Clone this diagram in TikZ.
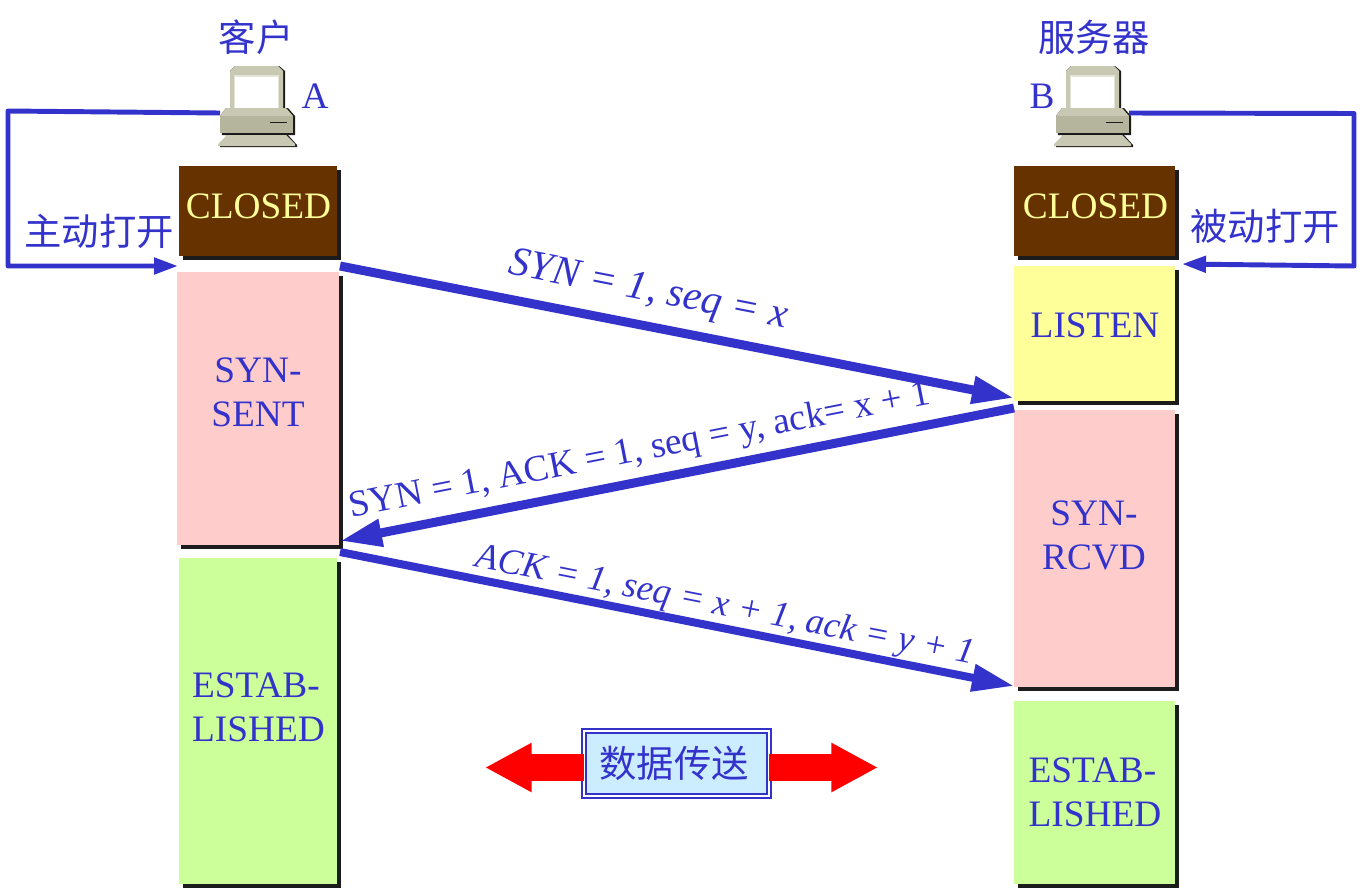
\documentclass[tikz,border=0pt]{standalone}
\usepackage{fontspec}
\setmainfont{Liberation Serif}
\newfontfamily\cjk{Noto Sans CJK SC}
\usetikzlibrary{arrows.meta,shadows}

\definecolor{msgblue}{HTML}{3333CC}
\definecolor{closedbrown}{HTML}{663300}
\definecolor{listenyellow}{HTML}{FFFF99}
\definecolor{synpink}{HTML}{FFCCCC}
\definecolor{estabgreen}{HTML}{CCFF99}
\definecolor{databg}{HTML}{CCECFF}
\definecolor{shadowblack}{HTML}{1C1C1C}
\definecolor{pclight}{HTML}{C9C9B3}
\definecolor{pcdark}{HTML}{B5B59D}
\definecolor{pcframe}{HTML}{E4E4D8}

\tikzset{
  statebox/.style={inner sep=0pt, outer sep=0pt,
    drop shadow={shadow xshift=3pt, shadow yshift=-3pt, fill=shadowblack, opacity=1}},
  statetext/.style={text=msgblue, align=center, inner sep=0pt,
    font=\fontsize{28}{33}\selectfont},
  msglabel/.style={text=msgblue, inner sep=0pt, font=\fontsize{28}{33}\selectfont},
  cjklabel/.style={text=msgblue, inner sep=0pt, font=\fontsize{28}{33}\selectfont\cjk},
  msgarrow/.style={draw=msgblue, line width=6.75pt,
    -{Triangle[length=31.5pt, width=19.5pt]}},
  openarrow/.style={draw=msgblue, line width=3.7pt, line join=round,
    -{Triangle[length=18pt, width=12pt]}},
  dataarrow/.style={draw=red, line width=20pt,
    -{Triangle[length=35pt, width=34.5pt]}},
  computer/.pic={
    % monitor
    \fill[shadowblack] (12,5) -- (17,0) -- (61,0) -- (67,5) -- (67,44) -- (12,44) -- cycle;
    \fill[pclight] (12,5) -- (17,0) -- (60,0) -- (65,5) -- (65,44) -- (12,44) -- cycle;
    \fill[pcframe] (16,9) rectangle (61,42);
    \fill[white] (17,11) rectangle (60,42);
    % base
    \fill[shadowblack] (2,50) -- (8,42) -- (70,42) -- (77,50) -- (77,69) -- (4,69) -- cycle;
    \fill[pclight] (2,50) -- (8,42) -- (68,42) -- (75,50) -- cycle;
    \fill[pcdark] (2,50) rectangle (75,67);
    \draw[shadowblack, line width=.6pt] (52,56) -- (69,56);
    % foot
    \fill[shadowblack] (2,80) -- (9,69) -- (70,69) -- (79,79) -- (79,81) -- (2,81) -- cycle;
    \fill[pclight] (0,78) -- (9,69) -- (68,69) -- (77,78) -- (77,80) -- (0,80) -- cycle;
    \coordinate (-left) at (2,47);
    \coordinate (-right) at (75,47);
  },
}

\begin{document}
\begin{tikzpicture}[x=.75pt, y=-.75pt]
\useasboundingbox (0,0) rectangle (1363,889);

\node[cjklabel] (client) at (256,37) {客户};
\node[cjklabel] (server) at (1094,37) {服务器};
\pic (pcA) at (218,66) {computer};
\pic (pcB) at (1054,66) {computer};
\node[msglabel] (nameA) at (315,96) {A};
\node[msglabel] (nameB) at (1042,96) {B};

\node[statebox, fill=closedbrown, minimum width=118.5pt, minimum height=67.5pt] (closedA) at (258,211) {};
\node[statebox, fill=synpink, minimum width=121.5pt, minimum height=204.75pt] (sentA) at (258,408.5) {};
\node[statebox, fill=estabgreen, minimum width=118.5pt, minimum height=244.5pt] (estabA) at (258,721) {};
\node[statebox, fill=closedbrown, minimum width=120.75pt, minimum height=67.5pt] (closedB) at (1094.5,211) {};
\node[statebox, fill=listenyellow, minimum width=120.75pt, minimum height=101.25pt] (listenB) at (1094.5,333.5) {};
\node[statebox, fill=synpink, minimum width=120.75pt, minimum height=207.75pt] (rcvdB) at (1094.5,548.5) {};
\node[statebox, fill=estabgreen, minimum width=120.75pt, minimum height=137.25pt] (estabB) at (1094.5,792.5) {};

\node[statetext, text=listenyellow] (closedAtext) at (258.5,206) {CLOSED};
\node[statetext] (sentAtext) at (258,392) {SYN-\\SENT};
\node[statetext, align=left] (estabAtext) at (258.5,707) {ESTAB-\\LISHED};
\node[statetext, text=listenyellow] (closedBtext) at (1095.5,206) {CLOSED};
\node[statetext] (listenBtext) at (1095,325) {LISTEN};
\node[statetext] (rcvdBtext) at (1094,535) {SYN-\\RCVD};
\node[statetext, align=left] (estabBtext) at (1095,792) {ESTAB-\\LISHED};

\node[cjklabel] (activeopen) at (99,231) {主动打开};
\node[cjklabel] (passiveopen) at (1265,226) {被动打开};

\draw[openarrow] (pcA-left) -- (8,111) -- (8,266) -- ([shift={(-1,10)}]closedA.south west);
\draw[openarrow] (pcB-right) -- (1354,113.5) -- (1354,266) -- ([shift={(7,8)}]closedB.south east);

\draw[msgarrow] ([shift={(3,10)}]closedA.south east) -- ([yshift=2.25pt]listenB.south west);
\draw[msgarrow] ([yshift=1.5pt]rcvdB.north west) -- ([shift={(1,-4)}]sentA.south east);
\draw[msgarrow, line width=6pt] ([shift={(1,7)}]sentA.south east) -- ([shift={(0,-1)}]rcvdB.south west);

\node[msglabel, rotate=-11.1, font=\fontsize{31}{33}\selectfont] (synlabel) at (648,292) {\itshape SYN = 1, seq = x};
\node[msglabel, rotate=11.1] (synacklabel) at (640,452) {SYN = 1, ACK = 1, seq = y, ack= x + 1};
\node[msglabel, rotate=-11.1, font=\fontsize{27.3}{33}\selectfont] (acklabel) at (725,607) {\itshape ACK = 1, seq = x + 1, ack = y + 1};

\node[draw=msgblue, fill=databg, double=white, double distance=1.5pt, line width=1.5pt,
  minimum width=139pt, minimum height=49pt, inner sep=0pt, outer sep=0pt] (databox) at (676.5,763.5) {};
\node[cjklabel] (datatext) at (674,763) {数据传送};
\coordinate (dataL) at (485,767.5);
\coordinate (dataR) at (878,767.5);
\draw[dataarrow] (databox.west |- dataL) -- (dataL);
\draw[dataarrow] (databox.east |- dataR) -- (dataR);

\end{tikzpicture}
\end{document}
